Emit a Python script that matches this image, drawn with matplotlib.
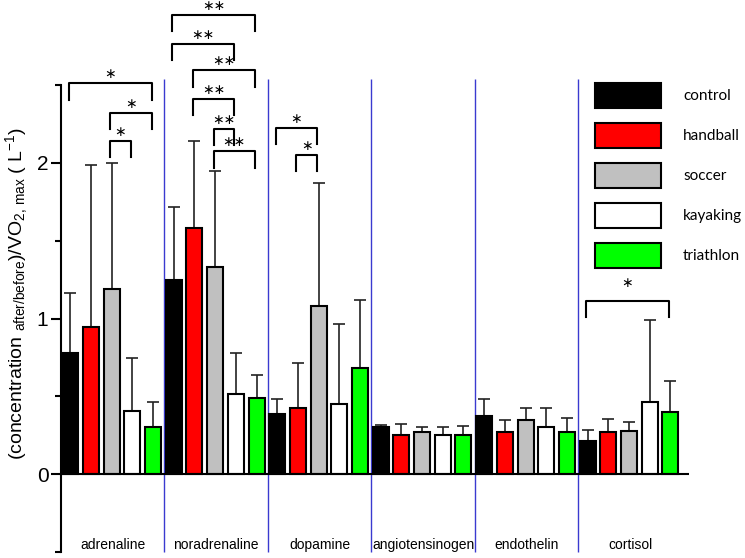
import matplotlib
matplotlib.use('Agg')
import matplotlib.pyplot as plt
from matplotlib.patches import Patch
import numpy as np

plt.rcParams['font.family'] = ['Liberation Sans', 'DejaVu Sans']
plt.rcParams['mathtext.fontset'] = 'custom'
plt.rcParams['mathtext.rm'] = 'Liberation Sans'
plt.rcParams['mathtext.it'] = 'Liberation Sans:italic'
plt.rcParams['mathtext.bf'] = 'Liberation Sans:bold'

grupos = ['adrenaline', 'noradrenaline', 'dopamine', 'angiotensinogen', 'endothelin', 'cortisol']
esportes = ['control', 'handball', 'soccer', 'kayaking', 'triathlon']
cores = ['black', '#ff0000', '#c0c0c0', 'white', '#00ff00']

control = [0.776, 1.246, 0.384, 0.304, 0.373, 0.212]
control_err = [0.39, 0.47, 0.10, 0.015, 0.11, 0.07]
handball = [0.947, 1.58, 0.424, 0.253, 0.268, 0.272]
handball_err = [1.04, 0.56, 0.29, 0.07, 0.08, 0.085]
soccer = [1.19, 1.33, 1.082, 0.274, 0.347, 0.276]
soccer_err = [0.81, 0.62, 0.79, 0.03, 0.075, 0.06]
kayaking = [0.407, 0.516, 0.452, 0.253, 0.302, 0.465]
kayaking_err = [0.34, 0.265, 0.515, 0.05, 0.125, 0.525]
triathlon = [0.304, 0.49, 0.68, 0.249, 0.272, 0.399]
triathlon_err = [0.16, 0.15, 0.44, 0.06, 0.09, 0.20]

valores = [control, handball, soccer, kayaking, triathlon]
erros = [control_err, handball_err, soccer_err, kayaking_err, triathlon_err]

# (grupo, barra inicial, barra final, altura do colchete, rotulo)
colchetes = [
    (0, 0, 4, 2.51, '*'), (0, 2, 4, 2.32, '*'), (0, 2, 3, 2.143, '*'),
    (1, 0, 4, 2.95, '**'), (1, 0, 3, 2.763, '**'), (1, 1, 4, 2.594, '**'),
    (1, 1, 3, 2.41, '**'), (1, 2, 3, 2.22, '**'), (1, 2, 4, 2.073, '**'),
    (2, 0, 2, 2.223, '*'), (2, 1, 2, 2.05, '*'),
    (5, 0, 4, 1.113, '*'),
]

largura = 0.155

def centro(g, i):
    return g + 0.09 + 0.2 * i

fig = plt.figure(figsize=(7.45, 5.58), dpi=100)
ax = fig.add_axes([61 / 745, 1 - 552 / 558, (689 - 61) / 745, (552 - 85) / 558])

x_grupos = np.arange(len(grupos))
for i, nome in enumerate(esportes):
    xs = [centro(g, i) for g in x_grupos]
    ax.bar(xs, valores[i], width=largura, color=cores[i], edgecolor='black',
           linewidth=1.5, zorder=3, label=nome)
    ax.errorbar(xs, valores[i], yerr=[np.zeros(len(grupos)), erros[i]], fmt='none',
                ecolor='#222222', elinewidth=1.2, capsize=4, capthick=1.2, zorder=2)

# linhas azuis separando os grupos
ax.vlines(x_grupos[1:], -0.5, 2.54, colors='#3a3ad0', linewidth=1, clip_on=False, zorder=1)

ax.axhline(0, color='black', linewidth=1.5, zorder=4)

for g, a, b, topo, rotulo in colchetes:
    x1 = centro(g, a) - 0.015
    x2 = centro(g, b) - 0.015
    ax.plot([x1, x1, x2, x2], [topo - 0.105, topo, topo, topo - 0.105],
            color='black', linewidth=1.5, clip_on=False, zorder=5)
    dy = 0.115 if g == 5 else 0.058
    ax.text((x1 + x2) / 2, topo + dy, rotulo.replace('*', '\u2217'),
            ha='center', va='center', fontsize=10, family='DejaVu Sans')

for g, nome in enumerate(grupos):
    ax.text(g + 0.5, -0.456, nome, ha='center', va='center', fontsize=10)

ax.set_xlim(0, 6.07)
ax.set_ylim(-0.5, 2.5)
ax.set_xticks([])
ax.set_yticks([0, 1, 2])
ax.set_yticks([-0.5, 0.5, 1.5, 2.5], minor=True)
ax.tick_params(axis='y', which='major', length=7, width=1.5, labelsize=15, pad=2)
ax.tick_params(axis='y', which='minor', length=4.5, width=1.5)
for lado in ['top', 'right', 'bottom']:
    ax.spines[lado].set_visible(False)
ax.spines['left'].set_linewidth(1.5)

fig.text(17 / 745, 1 - 293 / 558,
         r'(concentration $_{\mathrm{after/before}}$)/VO$_{\mathrm{2,\,max}}$ ( L$^{-1}$)',
         rotation=90, ha='center', va='center', fontsize=14)

handles = [Patch(facecolor=c, edgecolor='black', linewidth=1.5) for c in cores]
ax.legend(handles, esportes, loc='upper left', bbox_to_anchor=(595 / 745, 1 - 82.7 / 558),
          bbox_transform=fig.transFigure, frameon=False, borderpad=0, borderaxespad=0,
          handlelength=4.32, handleheight=2.19, labelspacing=0.95, handletextpad=1.44,
          prop={'family': 'Lato', 'size': 11})

plt.savefig('out.png', dpi=100)
